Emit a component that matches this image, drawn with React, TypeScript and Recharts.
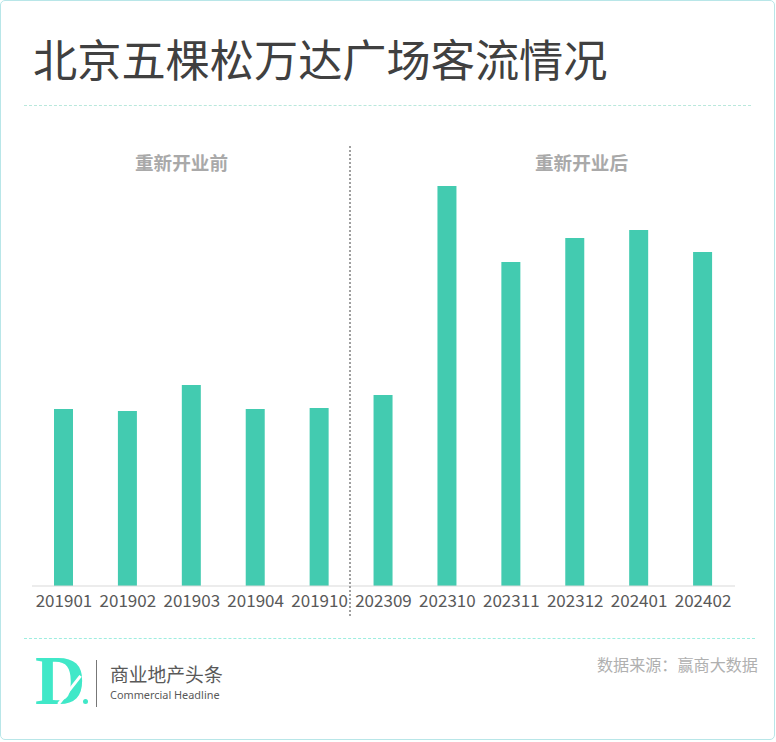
import { BarChart, Bar, XAxis, YAxis } from 'recharts';

const months = ['201901', '201902', '201903', '201904', '201910', '202309', '202310', '202311', '202312', '202401', '202402'];
const visitors = [177, 175, 201, 177, 178, 191, 400, 324, 348, 356, 334];
const yDomain = [0, 440];

const CJK = '"Noto Sans CJK SC", "Noto Sans", sans-serif';

const text = (left: number, top: number, fontSize: number, color: string, extra = {}) => ({
  position: 'absolute' as const,
  left,
  top,
  fontSize,
  color,
  lineHeight: 1,
  fontFamily: CJK,
  whiteSpace: 'nowrap' as const,
  ...extra,
});

const dashed = (top: number, left: number, width: number, color: string) => ({
  position: 'absolute' as const,
  top,
  left,
  width,
  height: 0,
  borderTop: `1px dashed ${color}`,
});

export default function App() {
  const table = months.map((month, i) => ({ month, value: visitors[i] }));

  return (
    <div
      style={{
        position: 'absolute',
        left: 0,
        top: 0,
        width: 776,
        height: 742,
        background: '#fff',
        overflow: 'hidden',
      }}
    >
      <div
        style={{
          position: 'absolute',
          left: 0,
          top: 0,
          width: 773,
          height: 738,
          border: '1.5px solid #b8e6e8',
          borderRadius: 5,
        }}
      />
      <div style={text(33, 36, 44.2, '#404040')}>北京五棵松万达广场客流情况</div>
      <div style={dashed(105, 24, 727, '#b9e8dc')} />

      <BarChart
        width={776}
        height={742}
        data={table}
        margin={{ top: 146, right: 41, bottom: 126, left: 32 }}
        style={{ position: 'absolute', left: 0, top: 0 }}
      >
        <XAxis
          dataKey="month"
          height={30}
          interval={0}
          tickLine={false}
          axisLine={{ stroke: '#d9d9d9' }}
          tick={{ fontSize: 17, fill: '#595959', fontFamily: CJK }}
          tickMargin={3}
        />
        <YAxis hide domain={yDomain} />
        <Bar dataKey="value" fill="#43cbb0" barSize={19} isAnimationActive={false} />
      </BarChart>

      <div
        style={{
          position: 'absolute',
          left: 349,
          top: 146,
          height: 470,
          width: 0,
          borderLeft: '2px dotted #a0a0a0',
        }}
      />
      <div style={text(135, 153, 18.6, '#a9a9a9', { fontWeight: 700 })}>重新开业前</div>
      <div style={text(535, 153, 18.6, '#a9a9a9', { fontWeight: 700 })}>重新开业后</div>

      <div style={dashed(638, 24, 731, '#9eeee0')} />
      <div
        style={text(35, 646, 70, '#40e8c8', {
          fontFamily: '"Liberation Serif", serif',
          fontWeight: 700,
        })}
      >
        D
      </div>
      {/* white cut through the logo bowl */}
      <div
        style={{
          position: 'absolute',
          left: 68,
          top: 672,
          width: 3,
          height: 36,
          background: '#fff',
          transform: 'rotate(38deg)',
        }}
      />
      <div
        style={{
          position: 'absolute',
          left: 83,
          top: 699,
          width: 5,
          height: 5,
          borderRadius: 3,
          background: '#40e8c8',
        }}
      />
      <div style={{ position: 'absolute', left: 96, top: 660, width: 1, height: 47, background: '#777' }} />
      <div style={text(110, 665, 18.8, '#595959')}>商业地产头条</div>
      <div style={text(110, 690, 10.9, '#595959', { fontFamily: '"Noto Sans", sans-serif' })}>Commercial Headline</div>
      <div style={text(597, 656, 16.1, '#b0b0b0')}>{'数据来源\uFF1A赢商大数据'}</div>
    </div>
  );
}
